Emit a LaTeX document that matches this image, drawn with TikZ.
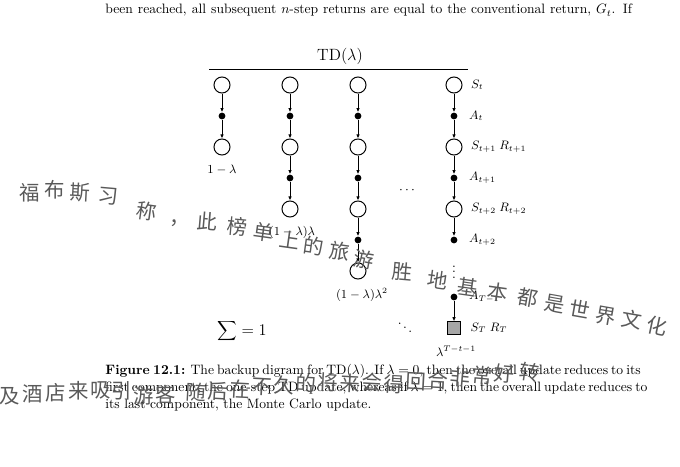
\documentclass[tikz,border=0pt]{standalone}
\usepackage{fontspec}
\newfontfamily\cjk{Noto Sans CJK SC}
\usetikzlibrary{positioning,arrows.meta}
\newcommand{\fullline}[1]{\hbox to 387pt{#1}}
\tikzset{
  state/.style={draw, circle, line width=0.7pt, minimum size=11.8pt, inner sep=0pt, fill=white},
  act/.style={fill, circle, minimum size=5pt, inner sep=0pt},
  term/.style={draw, rectangle, line width=0.7pt, fill=black!35, minimum size=9.2pt, inner sep=0pt},
  lbl/.style={font=\small, inner sep=0pt},
  body/.style={font=\normalsize, inner sep=0pt, anchor=base west},
  hand/.style={font=\cjk\fontsize{15}{15}\selectfont, text=black!65, inner sep=0pt},
}
\begin{document}
\begin{tikzpicture}[x=0.735pt, y=-0.735pt, >={Latex[length=3pt,width=2.6pt]}, line width=0.6pt]
\useasboundingbox (0,0) rectangle (680,467);
\node[body] (topline) at (105,14) {\fullline{been reached, all subsequent $n$-step returns are equal to the conventional return, $G_t$. If}};
\node[font=\large] (title) at (340,56) {TD($\lambda$)};
\coordinate (ruleL) at (209,69);
\coordinate (ruleR) at (468,69);
\draw[line width=0.7pt] (ruleL) -- (ruleR);
% first column
\node[state] (aS0) at (222,85) {};
\node[act] (aA0) at (222,116) {};
\node[state] (aS1) at (222,147) {};
\node[lbl] (aW) at (222,170) {$1-\lambda$};
\draw[->] (aS0) -- (aA0);
\draw[->] (aA0) -- (aS1);
% second column
\node[state] (bS0) at (290,85) {};
\node[act] (bA0) at (290,116) {};
\node[state] (bS1) at (290,147) {};
\node[act] (bA1) at (290,178) {};
\node[state] (bS2) at (290,209) {};
\node[lbl] (bW) at (292,232) {$(1-\lambda)\lambda$};
\draw[->] (bS0) -- (bA0);
\draw[->] (bA0) -- (bS1);
\draw[->] (bS1) -- (bA1);
\draw[->] (bA1) -- (bS2);
% third column
\node[state] (cS0) at (358,85) {};
\node[act] (cA0) at (358,116) {};
\node[state] (cS1) at (358,147) {};
\node[act] (cA1) at (358,178) {};
\node[state] (cS2) at (358,209) {};
\node[act] (cA2) at (358,240) {};
\node[state] (cS3) at (358,271) {};
\node[lbl] (cW) at (362,295) {$(1-\lambda)\lambda^2$};
\draw[->] (cS0) -- (cA0);
\draw[->] (cA0) -- (cS1);
\draw[->] (cS1) -- (cA1);
\draw[->] (cA1) -- (cS2);
\draw[->] (cS2) -- (cA2);
\draw[->] (cA2) -- (cS3);
\node (hdots) at (407,190) {$\cdots$};
% last column, Monte Carlo
\node[state] (dS0) at (454,85) {};
\node[act] (dA0) at (454,116) {};
\node[state] (dS1) at (454,147) {};
\node[act] (dA1) at (454,178) {};
\node[state] (dS2) at (454,209) {};
\node[act] (dA2) at (454,240) {};
\node (vdots) at (454,268) {$\vdots$};
\node[act] (dAT) at (454,297) {};
\node[term] (dST) at (454,328) {};
\draw[->] (dS0) -- (dA0);
\draw[->] (dA0) -- (dS1);
\draw[->] (dS1) -- (dA1);
\draw[->] (dA1) -- (dS2);
\draw[->] (dS2) -- (dA2);
\draw[->] (dAT) -- (dST);
\node[lbl, right=6pt of dS0] (lS0) {$S_t$};
\node[lbl, right=8pt of dA0] (lA0) {$A_t$};
\node[lbl, right=6pt of dS1] (lS1) {$S_{t+1}\;R_{t+1}$};
\node[lbl, right=8pt of dA1] (lA1) {$A_{t+1}$};
\node[lbl, right=6pt of dS2] (lS2) {$S_{t+2}\;R_{t+2}$};
\node[lbl, right=8pt of dA2] (lA2) {$A_{t+2}$};
\node[lbl, right=8pt of dAT] (lAT) {$A_{T-1}$};
\node[lbl, right=7pt of dST] (lST) {$S_T\;R_T$};
\node[lbl] (dW) at (456,351) {$\lambda^{T-t-1}$};
\node (ddots) at (405,324) {$\ddots$};
\node[font=\large] (total) at (242,331) {$\displaystyle\sum = 1$};
% caption
\node[body] (cap1) at (105,374) {\fullline{\textbf{Figure 12.1:} The backup digram for TD($\lambda$). If $\lambda=0$, then the overall update reduces to its}};
\node[body] (cap2) at (105,391) {\fullline{first component, the one-step TD update, whereas if $\lambda=1$, then the overall update reduces to}};
\node[body] (cap3) at (105,408) {its last component, the Monte Carlo update.};
% handwriting on top
\foreach \ch/\x/\y/\r [count=\i] in {福/30/193/0, 布/55/190/0, 斯/80/192/-3, 习/108/196/-5, 称/147/211/-8, ，/180/223/0, 此/207/222/-5, 榜/237/227/-5, 单/264/232/-8, 上/290/240/-8, 的/314/246/-8, 旅/340/251/-8, 游/364/260/-10, 胜/402/272/-5, 地/438/280/-8, 基/468/287/-8, 本/498/292/-8, 都/528/298/-10, 是/555/304/-10, 世/580/309/-10, 界/606/316/-10, 文/632/320/-10, 化/657/326/-12}
  \node[hand, rotate=\r] (hwa\i) at (\x,\y) {\ch};
\foreach \ch/\x/\y/\r [count=\i] in {及/10/396/0, 酒/33/394/0, 店/56/393/0, 来/79/391/0, 吸/101/390/0, 引/122/391/0, 游/144/396/0, 客/166/395/0, 随/196/392/-3, 后/218/391/-3, 在/240/389/-3, 不/262/387/-3, 久/284/385/-3, 的/306/383/-3, 将/328/382/-3, 来/350/383/-3, 会/372/382/-3, 得/394/384/-3, 回/416/382/-3, 合/438/380/-3, 非/460/378/-5, 常/482/376/-5, 好/504/374/-5, 转/530/372/-8}
  \node[hand, rotate=\r] (hwb\i) at (\x,\y) {\ch};
\end{tikzpicture}
\end{document}
